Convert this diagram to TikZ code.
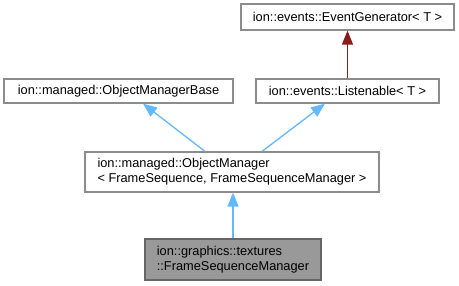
\documentclass[tikz,border=0pt]{standalone}
\usepackage{fontspec}
\setmainfont{Liberation Sans}
\usetikzlibrary{arrows.meta}
\definecolor{boxline}{HTML}{8C8C8C}
\definecolor{curline}{HTML}{666666}
\definecolor{curfill}{HTML}{999999}
\definecolor{pubedge}{HTML}{63B8FF}
\definecolor{tpledge}{HTML}{8B1A1A}
\tikzset{
  cls/.style={draw=boxline, line width=1.2pt, fill=white, rectangle, inner sep=0pt,
    font=\fontsize{12.8}{15}\selectfont, text=black},
  cur/.style={cls, draw=curline, fill=curfill},
  pub/.style={draw=pubedge, line width=1.3pt, -{Triangle[length=14pt,width=11pt]}},
  tpl/.style={draw=tpledge, line width=1.3pt, -{Triangle[length=14pt,width=11pt]}},
}
\begin{document}
\begin{tikzpicture}[x=1pt,y=-1pt]
  \useasboundingbox[fill=white] (0,0) rectangle (459,285);

  \node[cls, minimum width=213pt, minimum height=26pt] (evgen) at (347.5,17)
    {ion::events::EventGenerator< T >};
  \node[cls, minimum width=183pt, minimum height=24pt] (listen) at (347.5,91)
    {ion::events::Listenable< T >};
  \node[cls, minimum width=229pt, minimum height=24pt] (ombase) at (118.5,91)
    {ion::managed::ObjectManagerBase};
  \node[cls, minimum width=294pt, minimum height=40pt, align=left] (om) at (232,172)
    {ion::managed::ObjectManager\\< FrameSequence, FrameSequenceManager >};
  \node[cur, minimum width=176pt, minimum height=41pt, align=left] (fsm) at (233,259.5)
    {ion::graphics::textures\\::FrameSequenceManager};

  \draw[tpl] (listen.north) -- (evgen.south);
  \draw[pub] ([xshift=-27pt]om.north) -- ([xshift=24.5pt]ombase.south);
  \draw[pub] ([xshift=30pt]om.north) -- ([xshift=-22.5pt]listen.south);
  \draw[pub] (fsm.north) -- (fsm.north |- om.south);
\end{tikzpicture}
\end{document}
